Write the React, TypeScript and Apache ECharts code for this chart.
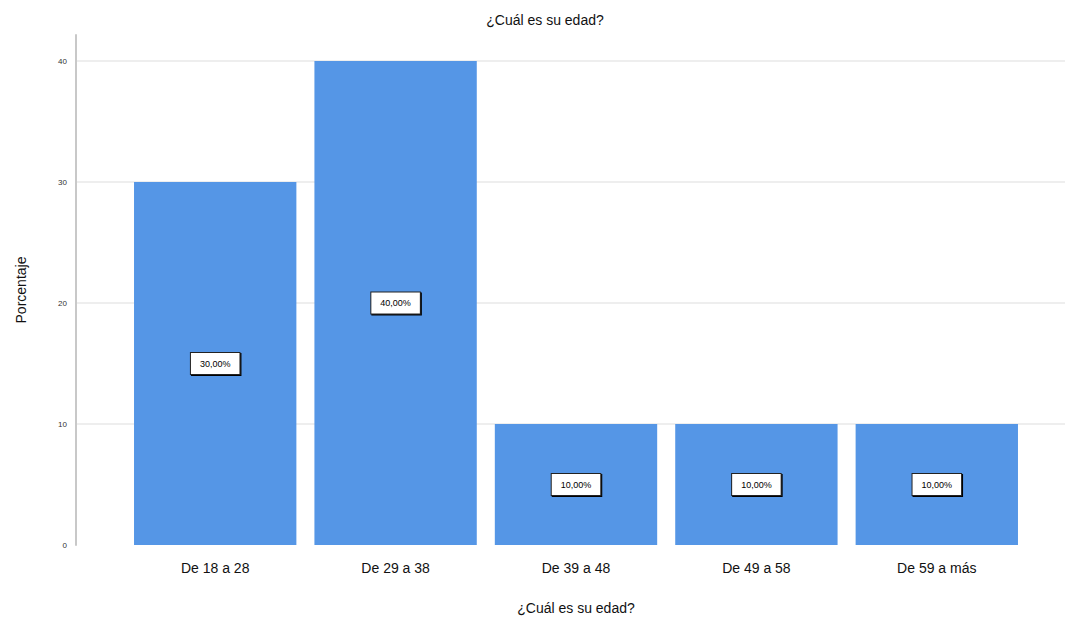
import React, { useEffect, useRef } from "react";
import * as echarts from "echarts";

const categories = ["De 18 a 28", "De 29 a 38", "De 39 a 48", "De 49 a 58", "De 59 a más"];
const values = [30, 40, 10, 10, 10];
const valueLabels = ["30,00%", "40,00%", "10,00%", "10,00%", "10,00%"];
const yTicks = [0, 10, 20, 30, 40];
const yMax = 42.15;

export default function App() {
  const ref = useRef<HTMLDivElement>(null);
  useEffect(() => {
    if (!ref.current) return;
    const chart = echarts.init(ref.current, undefined, { renderer: "svg" });
    const font = "Liberation Sans, Arial, sans-serif";
    chart.setOption({
      animation: false,
      backgroundColor: "#ffffff",
      title: {
        text: "¿Cuál es su edad?",
        left: 540,
        textAlign: "center",
        top: 8,
        textStyle: { fontSize: 14, fontWeight: 500, color: "#111", fontFamily: font },
      },
      grid: [
        { left: 76, right: 0, top: 35, bottom: 78 },
        { left: 125, right: 38, top: 35, bottom: 78 },
      ],
      xAxis: [
        { type: "value", gridIndex: 0, show: false, min: 0, max: 1 },
        {
          type: "category",
          gridIndex: 1,
          data: categories,
          axisLine: { show: false },
          axisTick: { show: false },
          axisLabel: { fontSize: 14, color: "#111", margin: 16, fontFamily: font },
          name: "¿Cuál es su edad?",
          nameLocation: "middle",
          nameGap: 56,
          nameTextStyle: { fontSize: 14, color: "#111", fontWeight: 500, fontFamily: font },
        },
      ],
      yAxis: [
        {
          type: "value",
          gridIndex: 0,
          min: 0,
          max: yMax,
          interval: 10,
          axisLine: { show: true, lineStyle: { color: "#c8c8c8", width: 2 } },
          axisTick: { show: false },
          axisLabel: {
            fontSize: 8,
            color: "#333",
            margin: 9,
            fontFamily: font,
            showMaxLabel: false,
            formatter: (v: number) => (yTicks.includes(v) ? String(v) : ""),
          },
          splitLine: {
            show: true,
            showMinLine: false,
            showMaxLine: false,
            lineStyle: { color: "#e8e8e8", width: 1.5 },
          },
          name: "Porcentaje",
          nameLocation: "middle",
          nameGap: 48,
          nameRotate: 90,
          nameTextStyle: { fontSize: 14, color: "#111", fontWeight: 500, fontFamily: font },
        },
        { type: "value", gridIndex: 1, min: 0, max: yMax, interval: 10, show: false, splitLine: { show: false } },
      ],
      series: [
        {
          type: "bar",
          xAxisIndex: 1,
          yAxisIndex: 1,
          data: values,
          barCategoryGap: "10%",
          itemStyle: { color: "#5596e6" },
          label: {
            show: true,
            position: "inside",
            formatter: (p: any) => valueLabels[p.dataIndex],
            fontSize: 9,
            color: "#000",
            fontFamily: font,
            backgroundColor: "#ffffff",
            borderColor: "#222",
            borderWidth: 1,
            padding: [6, 9],
            shadowColor: "#000",
            shadowOffsetX: 1,
            shadowOffsetY: 1,
          },
        },
      ],
    });
    return () => chart.dispose();
  }, []);
  return (
    <div
      ref={ref}
      style={{ position: "fixed", left: 0, top: 0, width: 1065, height: 623 }}
    />
  );
}
